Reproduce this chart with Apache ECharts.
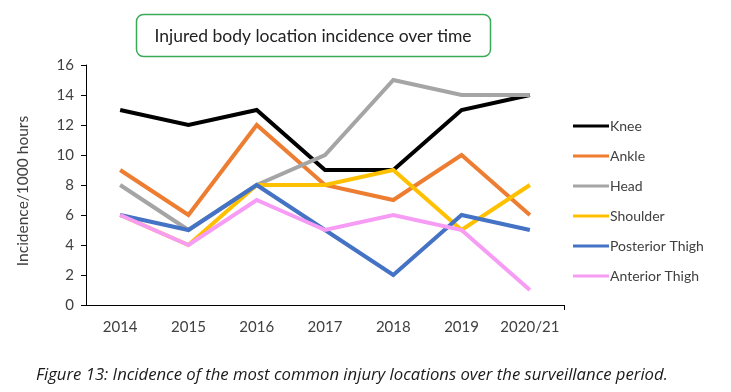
<!DOCTYPE html>
<html>
<head>
<meta charset="utf-8">
<script src="https://cdn.jsdelivr.net/npm/echarts@6/dist/echarts.min.js"></script>
<style>
  html, body {margin: 0; padding: 0; background: #fff;}
  #chart {width: 731px; height: 392px;}
</style>
</head>
<body>
<div id="chart"></div>
<script>
// values
const years = ['2014', '2015', '2016', '2017', '2018', '2019', '2020/21'];
const knee = [13, 12, 13, 9, 9, 13, 14];
const ankle = [9, 6, 12, 8, 7, 10, 6];
const head = [8, 5, 8, 10, 15, 14, 14];
const shoulder = [6, 4, 8, 8, 9, 5, 8];
const posteriorThigh = [6, 5, 8, 5, 2, 6, 5];
const anteriorThigh = [6, 4, 7, 5, 6, 5, 1];

const font = 'Lato, "Liberation Sans", sans-serif';

const seriesList = [
  {name: 'Knee', data: knee, color: '#000000'},
  {name: 'Ankle', data: ankle, color: '#ED7D31'},
  {name: 'Head', data: head, color: '#A5A5A5'},
  {name: 'Shoulder', data: shoulder, color: '#FFC000'},
  {name: 'Posterior Thigh', data: posteriorThigh, color: '#4472C4'},
  {name: 'Anterior Thigh', data: anteriorThigh, color: '#F79CF4'}
];

const myChart = echarts.init(document.getElementById('chart'));
myChart.setOption({
  animation: false,
  backgroundColor: '#fff',
  textStyle: {fontFamily: font},
  graphic: [
    {
      type: 'rect',
      shape: {x: 136.5, y: 14.5, width: 354, height: 42, r: 7},
      style: {fill: '#fff', stroke: '#3BAA58', lineWidth: 1.5}
    },
    {
      type: 'text',
      x: 313, y: 36,
      style: {
        text: 'Injured body location incidence over time',
        font: '17.5px ' + font,
        fill: '#222',
        align: 'center',
        verticalAlign: 'middle'
      }
    },
    {
      type: 'text',
      x: 23, y: 191,
      rotation: Math.PI / 2,
      style: {
        text: 'Incidence/1000 hours',
        font: '15.5px ' + font,
        fill: '#404040',
        align: 'center',
        verticalAlign: 'middle'
      }
    },
    {
      type: 'text',
      x: 36, y: 375,
      style: {
        text: 'Figure 13: Incidence of the most common injury locations over the surveillance period.',
        font: 'italic 16.7px "Open Sans", sans-serif',
        fill: '#1a1a1a',
        verticalAlign: 'middle'
      }
    },
    {
      // closing tick at the right end of the category axis
      type: 'line',
      shape: {x1: 564.5, y1: 305, x2: 564.5, y2: 310},
      style: {stroke: '#000', lineWidth: 1}
    }
  ],
  legend: {
    orient: 'vertical',
    left: 568,
    top: 114,
    itemGap: 16,
    itemWidth: 36,
    itemHeight: 14,
    icon: 'path://M0,5.5 L36,5.5 L36,8.5 L0,8.5 Z',
    textStyle: {fontSize: 14, color: '#404040', fontFamily: font, padding: [0, 0, 0, -4]},
    data: seriesList.map(s => s.name)
  },
  grid: {left: 86, right: 167, top: 65, bottom: 87},
  xAxis: {
    type: 'category',
    data: years,
    boundaryGap: true,
    axisLine: {lineStyle: {color: '#000', width: 1}},
    axisTick: {alignWithLabel: true, length: 5, lineStyle: {color: '#000'}},
    axisLabel: {interval: 0, fontSize: 15, color: '#404040', margin: 15, fontFamily: font},
    splitLine: {show: false}
  },
  yAxis: {
    type: 'value',
    min: 0,
    max: 16,
    interval: 2,
    axisLine: {show: true, lineStyle: {color: '#000', width: 1}},
    axisTick: {show: true, length: 5, lineStyle: {color: '#000'}},
    axisLabel: {fontSize: 15, color: '#404040', margin: 12, fontFamily: font},
    splitLine: {show: false}
  },
  series: seriesList.map(s => ({
    name: s.name,
    type: 'line',
    data: s.data,
    symbol: 'none',
    color: s.color,
    lineStyle: {width: 4, color: s.color, join: 'miter'}
  }))
});
</script>
</body>
</html>
